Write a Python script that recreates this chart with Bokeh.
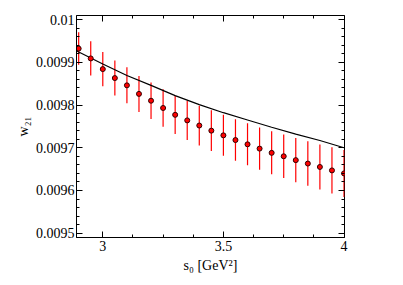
from bokeh.plotting import figure
from bokeh.models import Range1d, FixedTicker, LinearAxis, PrintfTickFormatter, ColumnDataSource
from bokeh.embed import file_html
from bokeh.resources import INLINE

# data points (s0 in GeV^2)
s0 = [2.90, 2.95, 3.00, 3.05, 3.10, 3.15, 3.20, 3.25, 3.30, 3.35, 3.40, 3.45,
      3.50, 3.55, 3.60, 3.65, 3.70, 3.75, 3.80, 3.85, 3.90, 3.95, 4.00]
w21 = [0.009932, 0.009909, 0.009884, 0.009863, 0.009846, 0.009826, 0.009810,
       0.009793, 0.009777, 0.009764, 0.009752, 0.009740, 0.009729, 0.009718,
       0.009708, 0.009698, 0.009688, 0.009680, 0.009671, 0.009663, 0.009655,
       0.009647, 0.009640]
w21_err = [0.0000380, 0.0000402, 0.0000402, 0.0000409, 0.0000421, 0.0000421,
           0.0000428, 0.0000440, 0.0000449, 0.0000460, 0.0000465, 0.0000475,
           0.0000480, 0.0000484, 0.0000491, 0.0000496, 0.0000503, 0.0000508,
           0.0000519, 0.0000519, 0.0000526, 0.0000543, 0.0000550]

# reference curve
curve_s0 = [2.89, 3.0, 3.1, 3.2, 3.3, 3.4, 3.5, 3.6, 3.7, 3.8, 3.9, 4.0]
curve_w21 = [0.009927, 0.009896, 0.009869, 0.009846, 0.009822, 0.009801,
             0.009782, 0.009765, 0.009748, 0.009732, 0.009717, 0.009700]

x_ticks = [3.0, 3.5, 4.0]
x_minor = [2.875, 3.125, 3.25, 3.375, 3.625, 3.75, 3.875]
y_ticks = [0.0095, 0.0096, 0.0097, 0.0098, 0.0099, 0.01]
y_minor = [0.0095 + i * 0.00002 for i in range(1, 26) if i % 5 != 0]

FONT = "'Liberation Serif', serif"
lower = [v - e for v, e in zip(w21, w21_err)]
upper = [v + e for v, e in zip(w21, w21_err)]
src = ColumnDataSource(dict(x=s0, y=w21, lo=lower, hi=upper))

p = figure(width=395, height=277, output_backend="svg", toolbar_location=None,
           x_range=Range1d(2.891, 4.002), y_range=Range1d(0.009490, 0.0100094),
           min_border_left=76, min_border_right=51, min_border_top=15,
           min_border_bottom=40, x_axis_location=None, y_axis_location=None)
p.outline_line_color = "black"
p.outline_line_width = 1
p.xgrid.visible = False
p.ygrid.visible = False
p.background_fill_color = "white"
p.border_fill_color = "white"


def style(ax):
    ax.axis_line_color = "black"
    ax.major_tick_in = 6
    ax.major_tick_out = 0
    ax.minor_tick_in = 3
    ax.minor_tick_out = 0
    ax.major_tick_line_color = "black"
    ax.minor_tick_line_color = "black"
    ax.major_label_text_font = FONT
    ax.major_label_text_font_size = "14px"
    ax.major_label_text_color = "black"
    ax.axis_label_text_font = FONT
    ax.axis_label_text_font_size = "14px"
    ax.axis_label_text_font_style = "normal"
    ax.axis_label_text_color = "black"


def tick_only_axis(positions, length, side):
    # axis with only (minor) tick marks and no labels
    ax = LinearAxis(ticker=FixedTicker(ticks=[], minor_ticks=positions))
    ax.axis_line_color = None
    ax.major_tick_line_color = None
    ax.minor_tick_in = length
    ax.minor_tick_out = 0
    ax.minor_tick_line_color = "black"
    ax.major_label_standoff = 0
    ax.axis_label_standoff = 0
    p.add_layout(ax, side)


xt = FixedTicker(ticks=x_ticks, minor_ticks=x_minor)
yt = FixedTicker(ticks=y_ticks, minor_ticks=y_minor)

xb = LinearAxis(ticker=xt, formatter=PrintfTickFormatter(format="%g"), axis_label="s₀ [GeV²]")
style(xb)
xb.major_label_standoff = 3
xb.axis_label_standoff = 4
p.add_layout(xb, "below")

yl = LinearAxis(ticker=yt, formatter=PrintfTickFormatter(format="%g"), axis_label="w₂₁")
style(yl)
yl.major_label_standoff = 2
yl.axis_label_standoff = 2
p.add_layout(yl, "left")

tick_only_axis(x_ticks, 6, "above")
tick_only_axis(x_minor, 3, "above")
tick_only_axis(y_ticks, 6, "right")
tick_only_axis(y_minor, 3, "right")

p.segment(x0="x", y0="lo", x1="x", y1="hi", source=src, line_color="red", line_width=1.2)
p.line(curve_s0, curve_w21, line_color="black", line_width=1.2)
p.scatter(x="x", y="y", source=src, size=5, fill_color="red", line_color="#300000", line_width=1)

open("out.html", "w").write(file_html(p, INLINE))
